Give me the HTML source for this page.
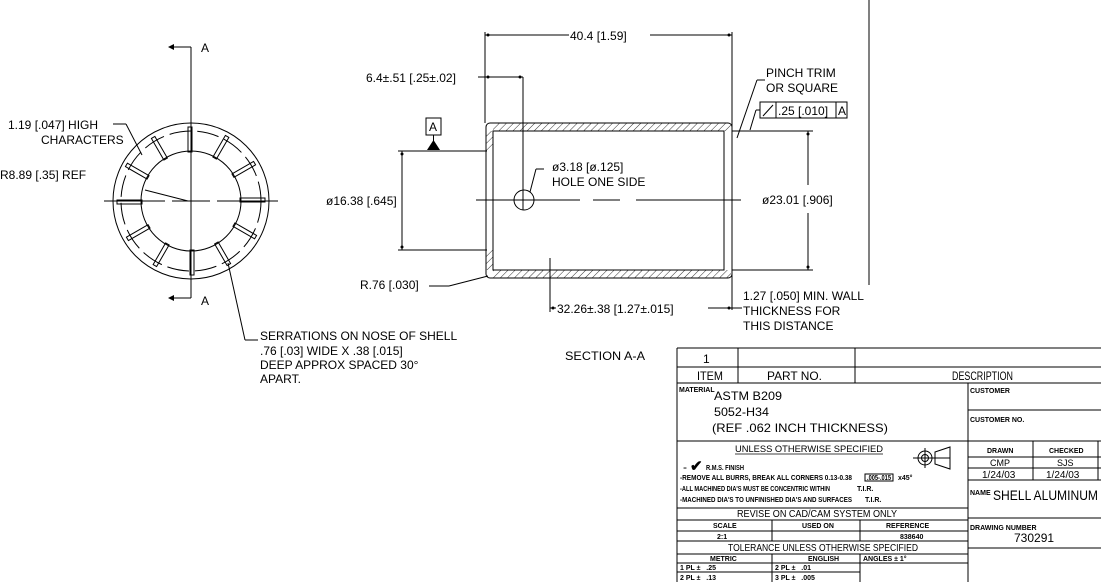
<!DOCTYPE html>
<html><head><meta charset="utf-8"><style>
html,body{margin:0;padding:0;background:#fff;}
svg{display:block;}
text{font-family:"Liberation Sans",sans-serif;fill:#000;}
.t{font-size:12px;}
.s{font-size:11px;}
.xs{font-size:7px;font-weight:bold;}
</style></head><body>
<svg width="1101" height="582" viewBox="0 0 1101 582" xmlns="http://www.w3.org/2000/svg">
<defs>
<pattern id="h" width="5" height="5" patternUnits="userSpaceOnUse" patternTransform="rotate(45)">
<line x1="0" y1="0" x2="0" y2="5" stroke="#000" stroke-width="0.8"/>
</pattern>
</defs>
<g stroke="#000" fill="none" stroke-width="1">
<line x1="869" y1="0" x2="869" y2="285"/>

<circle cx="191" cy="201" r="78"/>
<circle cx="191" cy="201" r="70" stroke-dasharray="22 6"/>
<circle cx="191" cy="201" r="50"/>
<g>
<rect x="188" y="127" width="4" height="25" transform="rotate(0 191 201)"/>
<rect x="188" y="127" width="4" height="25" transform="rotate(30 191 201)"/>
<rect x="188" y="127" width="4" height="25" transform="rotate(60 191 201)"/>
<rect x="188" y="127" width="4" height="25" transform="rotate(90 191 201)"/>
<rect x="188" y="127" width="4" height="25" transform="rotate(120 191 201)"/>
<rect x="188" y="127" width="4" height="25" transform="rotate(150 191 201)"/>
<rect x="188" y="127" width="4" height="25" transform="rotate(180 191 201)"/>
<rect x="188" y="127" width="4" height="25" transform="rotate(210 191 201)"/>
<rect x="188" y="127" width="4" height="25" transform="rotate(240 191 201)"/>
<rect x="188" y="127" width="4" height="25" transform="rotate(270 191 201)"/>
<rect x="188" y="127" width="4" height="25" transform="rotate(300 191 201)"/>
<rect x="188" y="127" width="4" height="25" transform="rotate(330 191 201)"/>
</g>
<line x1="191" y1="47" x2="191" y2="298"/>
<line x1="174" y1="47" x2="191" y2="47"/>
<line x1="174" y1="298" x2="191" y2="298"/>
<line x1="104" y1="201" x2="165" y2="201"/>
<line x1="172" y1="201" x2="210" y2="201"/>
<line x1="217" y1="201" x2="278" y2="201"/>
<line x1="145" y1="190" x2="188" y2="201"/>
<line x1="113" y1="124" x2="126" y2="124"/>
<line x1="126" y1="124" x2="142" y2="155"/>
<line x1="228" y1="263" x2="245" y2="340"/>
<line x1="245" y1="340" x2="258" y2="340"/>

<rect x="486" y="123" width="246" height="155" rx="4"/>
<rect x="493" y="131" width="231" height="139"/>
<rect x="493" y="123.5" width="238" height="7.5" fill="url(#h)" stroke="none"/>
<rect x="493" y="270" width="238" height="7.5" fill="url(#h)" stroke="none"/>
<rect x="486.5" y="131" width="6.5" height="20" fill="url(#h)" stroke="none"/>
<rect x="486.5" y="250" width="6.5" height="20" fill="url(#h)" stroke="none"/>
<line x1="724" y1="131" x2="724" y2="270"/>
<line x1="732" y1="123" x2="732" y2="310"/>
<line x1="476" y1="200" x2="580" y2="200"/>
<line x1="593" y1="200" x2="620" y2="200"/>
<line x1="636" y1="200" x2="741" y2="200"/>
<circle cx="524" cy="200" r="10"/>
<line x1="523" y1="77" x2="523" y2="210"/>
<line x1="536" y1="169" x2="530" y2="192"/>
<line x1="536" y1="169" x2="544" y2="169"/>
<line x1="485" y1="32" x2="485" y2="123"/>
<line x1="485" y1="35" x2="569" y2="35"/>
<line x1="650" y1="35" x2="732" y2="35"/>
<line x1="732" y1="32" x2="732" y2="123"/>
<line x1="478" y1="77" x2="523" y2="77"/>
<line x1="398" y1="151" x2="487" y2="151"/>
<line x1="398" y1="250" x2="487" y2="250"/>
<line x1="402" y1="151" x2="402" y2="250"/>
<rect x="426" y="118" width="15" height="17"/>
<line x1="433.5" y1="135" x2="433.5" y2="141"/>
<line x1="732" y1="131" x2="813" y2="131"/>
<line x1="732" y1="270" x2="813" y2="270"/>
<line x1="808" y1="131" x2="808" y2="185"/>
<line x1="808" y1="213" x2="808" y2="270"/>
<line x1="765" y1="80" x2="757" y2="80"/>
<line x1="757" y1="80" x2="737" y2="138"/>
<line x1="760" y1="110" x2="756" y2="110"/>
<line x1="756" y1="110" x2="750" y2="130"/>
<rect x="760" y="102" width="87" height="16"/>
<line x1="776" y1="102" x2="776" y2="118"/>
<line x1="836" y1="102" x2="836" y2="118"/>
<line x1="763" y1="116" x2="773" y2="105"/>
<line x1="550" y1="258" x2="550" y2="312"/>
<line x1="550" y1="308" x2="556" y2="308"/>
<line x1="708" y1="308" x2="742" y2="308"/>
<line x1="488" y1="276" x2="449" y2="286"/>
<line x1="449" y1="286" x2="429" y2="286"/>

<line x1="677" y1="348" x2="1101" y2="348"/>
<line x1="677" y1="367" x2="1101" y2="367"/>
<line x1="677" y1="383" x2="1101" y2="383"/>
<line x1="677" y1="348" x2="677" y2="582"/>
<line x1="738" y1="348" x2="738" y2="383"/>
<line x1="855" y1="348" x2="855" y2="383"/>
<line x1="968" y1="383" x2="968" y2="582"/>
<line x1="677" y1="441" x2="1101" y2="441"/>
<line x1="968" y1="410" x2="1101" y2="410"/>
<line x1="968" y1="457" x2="1101" y2="457"/>
<line x1="968" y1="468" x2="1101" y2="468"/>
<line x1="968" y1="480" x2="1101" y2="480"/>
<line x1="1033" y1="441" x2="1033" y2="480"/>
<line x1="1098" y1="441" x2="1098" y2="480"/>
<line x1="968" y1="518" x2="1101" y2="518"/>
<line x1="968" y1="548" x2="1101" y2="548"/>
<line x1="677" y1="508" x2="968" y2="508"/>
<line x1="677" y1="520" x2="968" y2="520"/>
<line x1="677" y1="531" x2="968" y2="531"/>
<line x1="677" y1="541" x2="968" y2="541"/>
<line x1="677" y1="554" x2="968" y2="554"/>
<line x1="677" y1="563" x2="968" y2="563"/>
<line x1="677" y1="572" x2="860" y2="572"/>
<line x1="772" y1="520" x2="772" y2="541"/>
<line x1="860" y1="520" x2="860" y2="541"/>
<line x1="772" y1="554" x2="772" y2="582"/>
<line x1="860" y1="554" x2="860" y2="582"/>
<line x1="735" y1="454" x2="883" y2="454" stroke-width="0.7"/>
<circle cx="925" cy="458" r="7"/>
<circle cx="925" cy="458" r="3.5"/>
<line x1="913" y1="458" x2="950" y2="458"/>
<line x1="925" y1="448" x2="925" y2="468"/>
<path d="M935 452 L950 447 L950 469 L935 464 Z"/>
<rect x="865" y="474" width="28" height="7"/>
</g>

<g fill="#000">
<polygon points="427,150 433.5,140 440,150"/>
<polygon points="174,44 168,47 174,50"/>
<polygon points="174,295 168,298 174,301"/>
<circle cx="488" cy="35" r="1.5"/><circle cx="729" cy="35" r="1.5"/>
<circle cx="488" cy="77" r="1.5"/><circle cx="520" cy="77" r="1.5"/>
<circle cx="402" cy="154" r="1.5"/><circle cx="402" cy="247" r="1.5"/>
<circle cx="808" cy="134" r="1.5"/><circle cx="808" cy="267" r="1.5"/>
<circle cx="553" cy="308" r="1.5"/><circle cx="729" cy="308" r="1.5"/>
</g>

<text class="t" x="8" y="129">1.19 [.047] HIGH</text>
<text class="t" x="41" y="144">CHARACTERS</text>
<text class="t" x="0" y="179">R8.89 [.35] REF</text>
<text class="t" x="201" y="52">A</text>
<text class="t" x="201" y="305">A</text>
<text class="t" x="260" y="340">SERRATIONS ON NOSE OF SHELL</text>
<text class="t" x="260" y="355">.76 [.03] WIDE X .38 [.015]</text>
<text class="t" x="260" y="369">DEEP APPROX SPACED 30°</text>
<text class="t" x="260" y="383">APART.</text>

<text class="t" x="570" y="40">40.4 [1.59]</text>
<text class="t" x="366" y="82">6.4±.51 [.25±.02]</text>
<text class="t" x="429" y="131">A</text>
<text class="t" x="326" y="205">ø16.38 [.645]</text>
<text class="t" x="552" y="171">ø3.18 [ø.125]</text>
<text class="t" x="552" y="186">HOLE ONE SIDE</text>
<text class="t" x="766" y="77">PINCH TRIM</text>
<text class="t" x="766" y="92">OR SQUARE</text>
<text class="t" x="778" y="115">.25 [.010]</text>
<text class="t" x="838" y="115">A</text>
<text class="t" x="762" y="204">ø23.01 [.906]</text>
<text class="t" x="360" y="289">R.76 [.030]</text>
<text class="t" x="557" y="313">32.26±.38 [1.27±.015]</text>
<text class="t" x="743" y="300">1.27 [.050] MIN. WALL</text>
<text class="t" x="743" y="315">THICKNESS FOR</text>
<text class="t" x="743" y="330">THIS DISTANCE</text>
<text class="t" x="565" y="360" textLength="80" lengthAdjust="spacingAndGlyphs">SECTION A-A</text>

<text class="t" x="703" y="363">1</text>
<text class="t" x="697" y="380" textLength="26" lengthAdjust="spacingAndGlyphs">ITEM</text>
<text class="t" x="767" y="380" textLength="55" lengthAdjust="spacingAndGlyphs">PART NO.</text>
<text class="t" x="952" y="380" textLength="61" lengthAdjust="spacingAndGlyphs">DESCRIPTION</text>
<text class="xs" x="679" y="392">MATERIAL</text>
<text class="t" x="714" y="400" textLength="68" lengthAdjust="spacingAndGlyphs">ASTM B209</text>
<text class="t" x="714" y="416" textLength="55" lengthAdjust="spacingAndGlyphs">5052-H34</text>
<text class="t" x="712" y="432" textLength="176" lengthAdjust="spacingAndGlyphs">(REF .062 INCH THICKNESS)</text>
<text class="xs" x="970" y="393">CUSTOMER</text>
<text class="xs" x="970" y="422">CUSTOMER NO.</text>
<text x="735" y="452" font-size="9" textLength="148" lengthAdjust="spacingAndGlyphs">UNLESS OTHERWISE SPECIFIED</text>
<text class="t" x="683" y="471">-</text>
<text x="690" y="471" font-size="15" font-weight="bold">✔</text>
<text class="xs" x="706" y="470" textLength="38" lengthAdjust="spacingAndGlyphs">R.M.S. FINISH</text>
<text class="xs" x="680" y="480" textLength="172" lengthAdjust="spacingAndGlyphs">-REMOVE ALL BURRS, BREAK ALL CORNERS 0.13-0.38</text>
<text class="xs" x="867" y="480" textLength="24" lengthAdjust="spacingAndGlyphs">.005-.015</text>
<text class="xs" x="898" y="480">x45°</text>
<text class="xs" x="680" y="491" textLength="150" lengthAdjust="spacingAndGlyphs">-ALL MACHINED DIA'S MUST BE CONCENTRIC WITHIN</text>
<text class="xs" x="857" y="491">T.I.R.</text>
<text class="xs" x="680" y="502" textLength="172" lengthAdjust="spacingAndGlyphs">-MACHINED DIA'S TO UNFINISHED DIA'S AND SURFACES</text>
<text class="xs" x="865" y="502">T.I.R.</text>
<text class="xs" x="987" y="453">DRAWN</text>
<text class="xs" x="1049" y="453">CHECKED</text>
<text x="990" y="466" font-size="9">CMP</text>
<text x="1057" y="466" font-size="9">SJS</text>
<text x="982" y="478" font-size="10">1/24/03</text>
<text x="1046" y="478" font-size="10">1/24/03</text>
<text class="xs" x="970" y="495">NAME</text>
<text x="993" y="500" font-size="14" textLength="105" lengthAdjust="spacingAndGlyphs">SHELL ALUMINUM</text>
<text class="xs" x="970" y="530">DRAWING NUMBER</text>
<text class="t" x="1014" y="542">730291</text>
<text x="737" y="517" font-size="10" textLength="160" lengthAdjust="spacingAndGlyphs">REVISE ON CAD/CAM SYSTEM ONLY</text>
<text class="xs" x="713" y="528">SCALE</text>
<text class="xs" x="802" y="528">USED ON</text>
<text class="xs" x="886" y="528">REFERENCE</text>
<text class="xs" x="717" y="539">2:1</text>
<text class="xs" x="900" y="539">838640</text>
<text x="728" y="551" font-size="10" textLength="190" lengthAdjust="spacingAndGlyphs">TOLERANCE UNLESS OTHERWISE SPECIFIED</text>
<text class="xs" x="710" y="561">METRIC</text>
<text class="xs" x="808" y="561">ENGLISH</text>
<text class="xs" x="863" y="561">ANGLES ± 1°</text>
<text class="xs" x="680" y="570" xml:space="preserve">1 PL ±   .25</text>
<text class="xs" x="775" y="570" xml:space="preserve">2 PL ±   .01</text>
<text class="xs" x="680" y="580" xml:space="preserve">2 PL ±   .13</text>
<text class="xs" x="775" y="580" xml:space="preserve">3 PL ±   .005</text>
</svg>
</body></html>
